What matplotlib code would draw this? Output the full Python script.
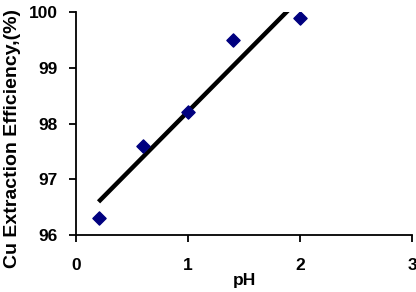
import matplotlib
matplotlib.use('Agg')
import matplotlib.pyplot as plt
import numpy as np

# pH vs Cu extraction efficiency
ph = [0.2, 0.6, 1.0, 1.4, 2.0]
efficiency = [96.3, 97.6, 98.2, 99.5, 99.9]

plt.rcParams['font.family'] = ['Liberation Sans', 'DejaVu Sans']
plt.rcParams['font.weight'] = 'bold'


def plot():
    fig = plt.figure(figsize=(4.16, 2.92), dpi=100)
    ax = fig.add_axes([0.183, 0.195, 0.808, 0.764])

    # linear trendline over the data range
    slope, intercept = np.polyfit(ph, efficiency, 1)
    xs = np.array([min(ph), max(ph)])
    ax.plot(xs, slope * xs + intercept, c='black', lw=3.2, solid_capstyle='butt')

    ax.scatter(ph, efficiency, marker='D', s=45, c='#00007f', zorder=3)

    ax.set_xlim(0, 3)
    ax.set_ylim(96, 100)
    ax.set_xticks([0, 1, 2, 3])
    ax.set_yticks([96, 97, 98, 99, 100])

    for side in ('top', 'right'):
        ax.spines[side].set_visible(False)
    for side in ('left', 'bottom'):
        ax.spines[side].set_linewidth(1.3)

    ax.tick_params(direction='out', length=5, width=1.3, labelsize=12.5)
    ax.tick_params(axis='x', pad=11.5)
    ax.tick_params(axis='y', pad=8)
    ax.set_xlabel('pH', fontsize=12.5, fontweight='bold')
    ax.set_ylabel('Cu Extraction Efficiency,(%)', fontsize=14,
                  fontweight='bold')
    ax.xaxis.set_label_coords(0.5, -0.17)
    ax.yaxis.set_label_coords(-0.165, 0.435)

    fig.savefig('out.png', dpi=100)


if __name__ == '__main__':
    plot()
